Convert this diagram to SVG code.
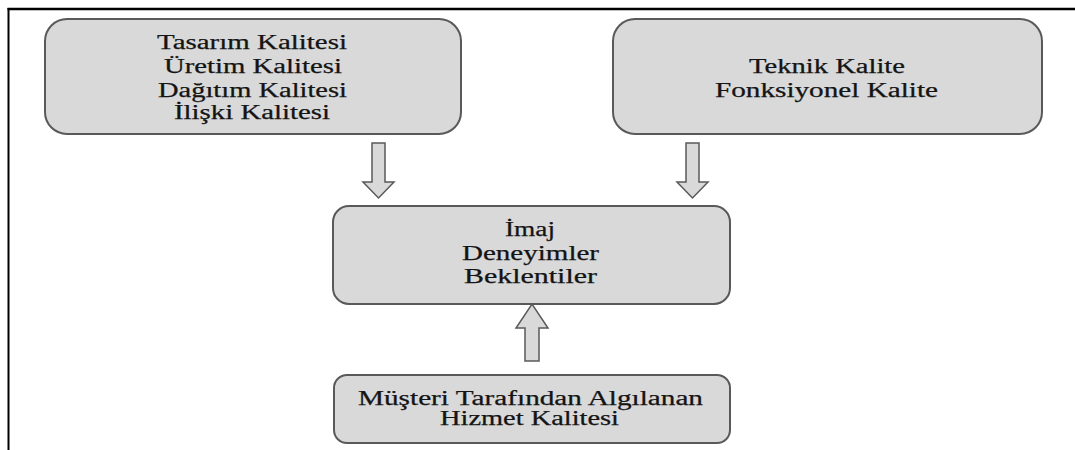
<svg xmlns="http://www.w3.org/2000/svg" width="1075" height="450" viewBox="0 0 1075 450">
  <style>
    .box { fill: #d9d9d9; stroke: #595959; stroke-width: 2; }
    .arrow { fill: #d9d9d9; stroke: #595959; stroke-width: 1.5; stroke-linejoin: miter; }
    .frame { stroke: #000; fill: none; }
    text { font-family: "Liberation Serif", "Times New Roman", serif; font-size: 20.5px; fill: #141414; stroke: #141414; stroke-width: 0.25; text-anchor: middle; }
  </style>
  <rect width="1075" height="450" fill="#ffffff"/>

  <!-- outer frame: top and left rules -->
  <g id="frame">
    <line class="frame" x1="7.5" y1="9" x2="1075" y2="9" stroke-width="2.5"/>
    <line class="frame" x1="8.5" y1="8" x2="8.5" y2="450" stroke-width="2"/>
  </g>

  <g id="connectors">
    <polygon class="arrow" points="372,143 385,143 385,182 394,182 378.5,198 363,182 372,182"/>
    <polygon class="arrow" points="686,143 699,143 699,182 708,182 692.5,198 677,182 686,182"/>
    <polygon class="arrow" points="525,361 539,361 539,328 548,328 532,304 516,328 525,328"/>
  </g>

  <g id="node-dimensions">
    <rect class="box" x="45" y="19" width="416" height="115" rx="22" ry="22"/>
    <text x="252" y="49" textLength="190" lengthAdjust="spacingAndGlyphs">Tasarım Kalitesi</text>
    <text x="253" y="73" textLength="178" lengthAdjust="spacingAndGlyphs">Üretim Kalitesi</text>
    <text x="252.5" y="97" textLength="189" lengthAdjust="spacingAndGlyphs">Dağıtım Kalitesi</text>
    <text x="252" y="119" textLength="156" lengthAdjust="spacingAndGlyphs">İlişki Kalitesi</text>
  </g>

  <g id="node-technical">
    <rect class="box" x="613" y="19" width="429" height="115" rx="22" ry="22"/>
    <text x="827" y="73" textLength="156" lengthAdjust="spacingAndGlyphs">Teknik Kalite</text>
    <text x="826.5" y="97" textLength="223" lengthAdjust="spacingAndGlyphs">Fonksiyonel Kalite</text>
  </g>

  <g id="node-image">
    <rect class="box" x="333" y="206" width="397" height="98" rx="16" ry="16"/>
    <text x="530" y="236" textLength="50" lengthAdjust="spacingAndGlyphs">İmaj</text>
    <text x="530.5" y="260" textLength="137" lengthAdjust="spacingAndGlyphs">Deneyimler</text>
    <text x="530.5" y="283" textLength="133" lengthAdjust="spacingAndGlyphs">Beklentiler</text>
  </g>

  <g id="node-perceived">
    <rect class="box" x="334" y="375" width="396" height="68" rx="13" ry="13"/>
    <text x="530.5" y="405" textLength="345" lengthAdjust="spacingAndGlyphs">Müşteri Tarafından Algılanan</text>
    <text x="529.5" y="425" textLength="179" lengthAdjust="spacingAndGlyphs">Hizmet Kalitesi</text>
  </g>
</svg>
